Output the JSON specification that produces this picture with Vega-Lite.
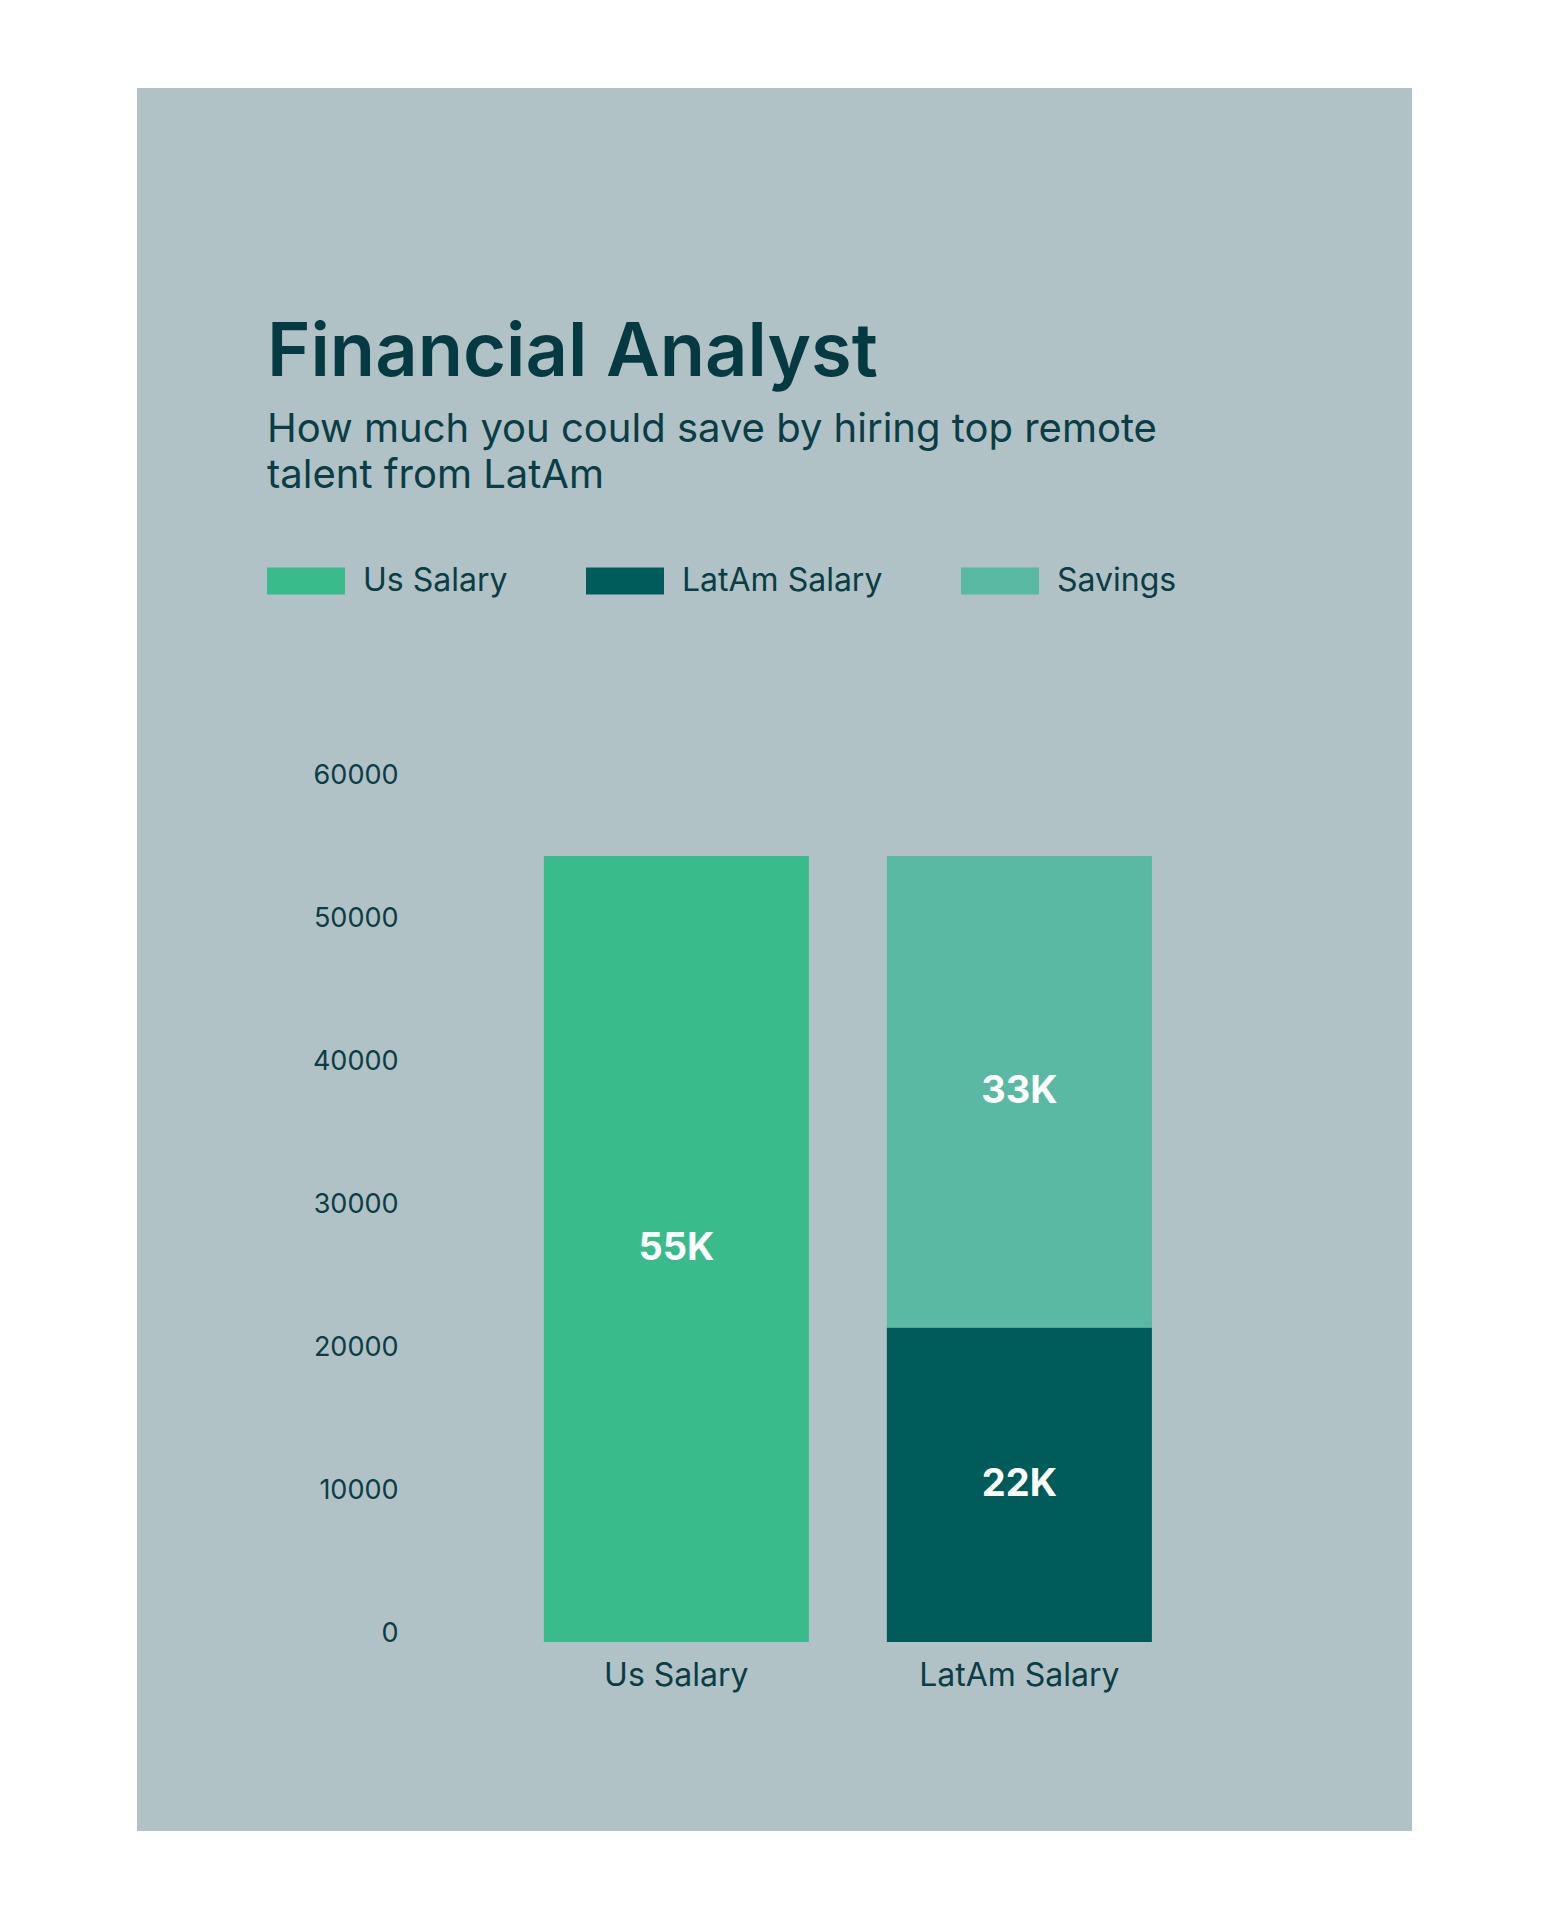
{
  "$schema": "https://vega.github.io/schema/vega-lite/v6.json",
  "width": 1275,
  "height": 1743,
  "autosize": {"type": "none"},
  "padding": {"left": 137, "top": 88, "right": 137, "bottom": 89},
  "background": "#ffffff",
  "config": {"view": {"fill": "#b0c2c5", "stroke": null}, "font": "Inter"},
  "title": {
    "text": "Financial Analyst",
    "subtitle": ["How much you could save by hiring top remote", "talent from LatAm"],
    "anchor": "start",
    "frame": "group",
    "dx": 130,
    "dy": 409,
    "offset": 0,
    "font": "Inter",
    "fontSize": 74,
    "fontWeight": 600,
    "color": "#063a42",
    "subtitleFont": "Inter",
    "subtitleFontSize": 40,
    "subtitleColor": "#0a3d45",
    "subtitleLineHeight": 46,
    "subtitlePadding": 18
  },
  "data": {
    "values": [
      {"category": "Us Salary", "series": "Us Salary", "value": 55000, "label": "55K"},
      {"category": "LatAm Salary", "series": "LatAm Salary", "value": 22000, "label": "22K"},
      {"category": "LatAm Salary", "series": "Savings", "value": 33000, "label": "33K"}
    ]
  },
  "transform": [
    {"stack": "value", "groupby": ["category"], "sort": [{"field": "series", "order": "ascending"}], "as": ["v0", "v1"]},
    {"calculate": "(datum.v0 + datum.v1) / 2", "as": "mid"}
  ],
  "encoding": {
    "x": {
      "field": "category",
      "type": "nominal",
      "sort": ["Us Salary", "LatAm Salary"],
      "scale": {"paddingInner": 0.2274, "paddingOuter": 0.972, "align": 0.61},
      "axis": {
        "title": null,
        "offset": -189,
        "ticks": false,
        "domain": false,
        "labelPadding": 33,
        "labelBaseline": "middle",
        "labelFontSize": 32,
        "labelLimit": 0,
        "labelColor": "#0a3d45",
        "labelAngle": 0
      }
    }
  },
  "layer": [
    {
      "mark": {"type": "bar"},
      "encoding": {
        "y": {
          "field": "v1",
          "type": "quantitative",
          "scale": {"domain": [-13225, 108740], "nice": false, "zero": false},
          "axis": {
            "title": null,
            "values": [0, 10000, 20000, 30000, 40000, 50000, 60000],
            "format": "d",
            "offset": -261,
            "ticks": false,
            "domain": false,
            "grid": false,
            "labelPadding": 0,
            "labelFontSize": 27,
            "labelColor": "#0a3d45",
            "labelOffset": -9,
            "labelBaseline": "middle"
          }
        },
        "y2": {"field": "v0"},
        "color": {
          "field": "series",
          "type": "nominal",
          "sort": ["Us Salary", "LatAm Salary", "Savings"],
          "scale": {"domain": ["Us Salary", "LatAm Salary", "Savings"], "range": ["#3abb8b", "#005c5a", "#59b9a2"]},
          "legend": {
            "orient": "none",
            "legendX": 130,
            "legendY": 454,
            "direction": "horizontal",
            "title": null,
            "symbolType": "M-1,-0.346H1V0.346H-1Z",
            "symbolSize": 6084,
            "symbolStrokeWidth": 0,
            "symbolOpacity": 1,
            "labelFontSize": 32,
            "labelLimit": 0,
            "labelColor": "#0a3d45",
            "labelOffset": 18,
            "columnPadding": 78
          }
        }
      }
    },
    {
      "mark": {"type": "text", "color": "#ffffff", "fontSize": 38, "fontWeight": "bold", "baseline": "middle"},
      "encoding": {
        "y": {"field": "mid", "type": "quantitative"},
        "text": {"field": "label", "type": "nominal"}
      }
    }
  ]
}
